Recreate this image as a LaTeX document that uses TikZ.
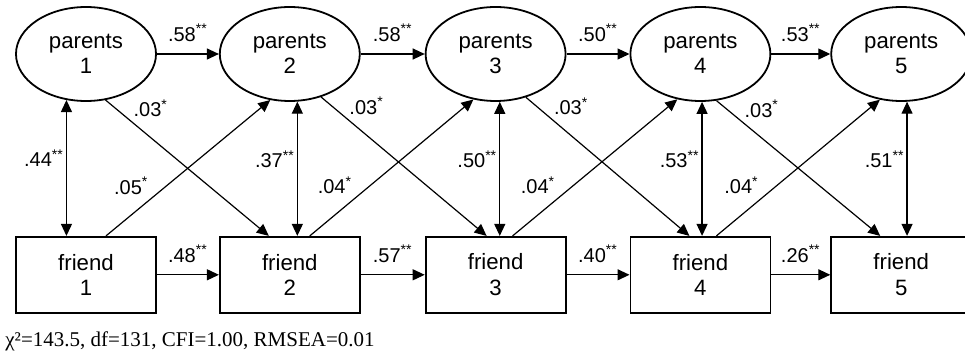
\documentclass[tikz,border=0pt]{standalone}
\usepackage{fontspec}
\setmainfont{Liberation Sans}
\newfontfamily\statfont{Liberation Serif}
\usepackage{tikz}
\usetikzlibrary{positioning,shapes.geometric,arrows.meta}

\tikzset{
    parnode/.style={draw, ellipse, line width=0.9pt,
        minimum width=70pt, minimum height=47pt,
        align=center, font=\fontsize{11.1}{12.6}\selectfont},
    frinode/.style={draw, rectangle, line width=0.9pt,
        minimum width=70pt, minimum height=38pt,
        align=center, font=\fontsize{11.1}{12.8}\selectfont},
    effect/.style={line width=0.6pt, -{Triangle[length=6pt,width=5.5pt]}},
    corr/.style={line width=0.6pt,
        {Triangle[length=6pt,width=5.5pt]}-{Triangle[length=6pt,width=5.5pt]}},
    coef/.style={font=\fontsize{10}{12}\selectfont, inner sep=1.5pt}
}

\begin{document}
\begin{tikzpicture}[x=0.5pt,y=-0.5pt]

    \useasboundingbox (0,0) rectangle (965,352);

    % parents row
    \node[parnode] (par1) at (86,54) {parents\\1};
    \node[parnode, right=31pt of par1] (par2) {parents\\2};
    \node[parnode, right=32pt of par2] (par3) {parents\\3};
    \node[parnode, right=31.5pt of par3] (par4) {parents\\4};
    \node[parnode, right=29.5pt of par4] (par5) {parents\\5};

    % friend row
    \node[frinode, below=67pt of par1] (fri1) {friend\\1};
    \node[frinode, below=67pt of par2] (fri2) {friend\\2};
    \node[frinode, below=67pt of par3] (fri3) {friend\\3};
    \node[frinode, below=67pt of par4] (fri4) {friend\\4};
    \node[frinode, below=67pt of par5] (fri5) {friend\\5};

    % stability paths
    \draw[effect] (par1.east) -- (par2.west)
        node[midway, above=4.5pt, coef]{.58\textsuperscript{**}};
    \draw[effect] (par2.east) -- (par3.west)
        node[midway, above=4.5pt, coef]{.58\textsuperscript{**}};
    \draw[effect] (par3.east) -- (par4.west)
        node[midway, above=4.5pt, coef]{.50\textsuperscript{**}};
    \draw[effect] (par4.east) -- (par5.west)
        node[midway, above=4.5pt, coef]{.53\textsuperscript{**}};

    \draw[effect] (fri1.east) -- (fri2.west)
        node[midway, above=4.5pt, coef]{.48\textsuperscript{**}};
    \draw[effect] (fri2.east) -- (fri3.west)
        node[midway, above=4.5pt, coef]{.57\textsuperscript{**}};
    \draw[effect] (fri3.east) -- (fri4.west)
        node[midway, above=4.5pt, coef]{.40\textsuperscript{**}};
    \draw[effect] (fri4.east) -- (fri5.west)
        node[midway, above=4.5pt, coef]{.26\textsuperscript{**}};

    % correlations
    \draw[corr] (par1.-113) -- (par1.-113 |- fri1.north)
        node[pos=0.43, left, coef, inner sep=1pt]{.44\textsuperscript{**}};
    \draw[corr] (par2.-81) -- (par2.-81 |- fri2.north)
        node[pos=0.43, left, coef, inner sep=1pt]{.37\textsuperscript{**}};
    \draw[corr] (par3.-85) -- (par3.-85 |- fri3.north)
        node[pos=0.43, left, coef, inner sep=1pt]{.50\textsuperscript{**}};
    \draw[corr] (par4.-88) -- (par4.-88 |- fri4.north)
        node[pos=0.43, left, coef, inner sep=1pt]{.53\textsuperscript{**}};
    \draw[corr] (par5.-83) -- (par5.-83 |- fri5.north)
        node[pos=0.43, left, coef, inner sep=1pt]{.51\textsuperscript{**}};

    % cross-lagged paths
    \draw[effect] (par1.-67) -- ([xshift=-10.5pt]fri2.north)
        node[pos=0.15, above right, coef]{.03\textsuperscript{*}};
    \draw[effect] (par2.-54) -- ([xshift=-4.5pt]fri3.north)
        node[pos=0.15, above right, coef]{.03\textsuperscript{*}};
    \draw[effect] (par3.-55) -- ([xshift=-5.5pt]fri4.north)
        node[pos=0.15, above right, coef]{.03\textsuperscript{*}};
    \draw[effect] (par4.-71) -- ([xshift=-10.5pt]fri5.north)
        node[pos=0.15, above right, coef]{.03\textsuperscript{*}};

    \draw[effect] ([xshift=10pt]fri1.north) -- (par2.-113)
        node[pos=0.28, above left, coef]{.05\textsuperscript{*}};
    \draw[effect] ([xshift=10pt]fri2.north) -- (par3.-116)
        node[pos=0.28, above left, coef]{.04\textsuperscript{*}};
    \draw[effect] ([xshift=8.5pt]fri3.north) -- (par4.-117)
        node[pos=0.28, above left, coef]{.04\textsuperscript{*}};
    \draw[effect] ([xshift=8pt]fri4.north) -- (par5.-115)
        node[pos=0.28, above left, coef]{.04\textsuperscript{*}};

    % fit indices
    \node[anchor=base west, inner sep=0pt,
        font=\statfont\fontsize{10.5}{12}\selectfont]
        (fit) at (5,347) {χ²=143.5, df=131, CFI=1.00, RMSEA=0.01};

\end{tikzpicture}
\end{document}
